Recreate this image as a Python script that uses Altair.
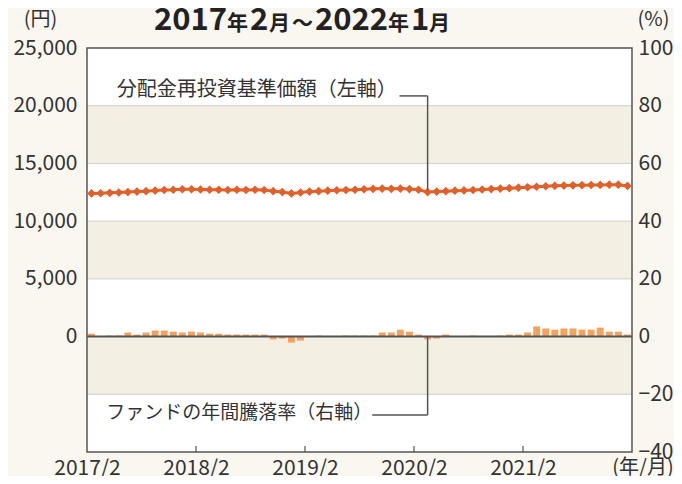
import altair as alt
import pandas as pd

# ---- data ----
months = list(range(60))  # 2017/2 ... 2022/1
nav = [12400, 12420, 12450, 12480, 12520, 12560, 12600, 12650, 12700, 12720,
       12760, 12760, 12740, 12720, 12720, 12700, 12720, 12700, 12720, 12700,
       12600, 12520, 12400, 12480, 12560, 12600, 12640, 12680, 12700, 12720,
       12760, 12800, 12820, 12800, 12820, 12780, 12720, 12520, 12560, 12600,
       12640, 12660, 12700, 12740, 12780, 12820, 12860, 12900, 12940, 12980,
       13020, 13060, 13080, 13100, 13120, 13130, 13140, 13160, 13160, 13050]
ret = [1.0, 0.1, 0.35, 0.35, 1.4, 0.7, 1.4, 2.1, 2.1, 1.7,
       1.4, 1.7, 1.4, 1.0, 1.0, 0.7, 0.7, 0.7, 0.7, 0.7,
       -1.0, -0.7, -2.1, -1.4, 0.0, 0.35, 0.1, 0.0, 0.35, 0.35,
       0.35, 0.35, 1.4, 1.4, 2.4, 1.7, 0.7, -1.0, -0.7, 0.7,
       0.0, 0.0, 0.35, 0.05, 0.0, 0.35, 0.7, 0.7, 1.4, 3.5,
       2.8, 2.4, 2.8, 2.8, 2.4, 2.4, 3.1, 1.7, 1.7, 0.7]
year_ticks = [0, 12, 24, 36, 48]
left_ticks = [0, 5000, 10000, 15000, 20000, 25000]
right_ticks = [-40, -20, 0, 20, 40, 60, 80, 100]
band_lo = [60, 20, -20]
band_hi = [80, 40, 0]
grid_vals = [80, 60, 40, 20, -20]

W, H = 545, 404
FONT = "Noto Sans CJK JP"
TXT = "#333333"
LINE_C = "#e0602c"
BAR_C = "#f8a05e"
FRAME_C = "#555555"
LBL = 21

df = pd.DataFrame({"i": months, "nav": nav, "ret": ret})
df["x0"] = df["i"] + 0.12
df["x1"] = df["i"] + 0.88
df["xc"] = df["i"] + 0.5
df["zero"] = 0.0

xs = alt.Scale(domain=[0, 60], nice=False, zero=False)
ysr = alt.Scale(domain=[-40, 100], nice=False, zero=False)
ysl = alt.Scale(domain=[-10000, 25000], nice=False, zero=False)

x_axis = alt.Axis(values=year_ticks, labelExpr="(2017 + datum.value/12) + '/2'",
                  ticks=False, domain=False, grid=False, title=None,
                  labelFont=FONT, labelFontSize=LBL, labelColor=TXT, labelPadding=5,
                  labelFlush=False)
r_axis = alt.Axis(orient="right", values=right_ticks, ticks=False, domain=False,
                  grid=False, labelFont=FONT, labelFontSize=LBL, labelColor=TXT,
                  labelPadding=6, title="(%)", titleAngle=0, titleX=21, titleY=-29,
                  titleAlign="center", titleBaseline="middle", titleFont=FONT,
                  titleFontSize=20, titleFontWeight="normal", titleColor=TXT)
l_axis = alt.Axis(orient="left", values=left_ticks, format=",.0f", ticks=False,
                  domain=False, grid=False, labelFont=FONT, labelFontSize=LBL,
                  labelColor=TXT, labelPadding=10, title="(円)", titleAngle=0,
                  titleX=-47, titleY=-29, titleAlign="center", titleBaseline="middle",
                  titleFont=FONT, titleFontSize=20, titleFontWeight="normal",
                  titleColor=TXT)

bands_df = pd.DataFrame({"lo": band_lo, "hi": band_hi, "a": 0, "b": 60})
grid_df = pd.DataFrame({"g": grid_vals})
tick_df = pd.DataFrame({"t": year_ticks[1:], "y0": -40, "y1": -37.9})
frame_df = pd.DataFrame({"a": [0], "b": [60], "lo": [-40], "hi": [100]})

bands = alt.Chart(bands_df).mark_rect(color="#f3f0e3").encode(
    x=alt.X("a:Q", scale=xs, axis=x_axis), x2="b:Q",
    y=alt.Y("lo:Q", scale=ysr, axis=r_axis), y2="hi:Q")
grid = alt.Chart(grid_df).mark_rule(color="#cfcfcf", strokeWidth=1).encode(
    y=alt.Y("g:Q", scale=ysr))
bars = alt.Chart(df).mark_rect(color=BAR_C).encode(
    x=alt.X("x0:Q", scale=xs), x2="x1:Q",
    y=alt.Y("ret:Q", scale=ysr), y2="zero:Q")
zero = alt.Chart(pd.DataFrame({"z": [0]})).mark_rule(color=FRAME_C, strokeWidth=2).encode(
    y=alt.Y("z:Q", scale=ysr))
ticks = alt.Chart(tick_df).mark_rule(color=FRAME_C, strokeWidth=1.2).encode(
    x=alt.X("t:Q", scale=xs), y=alt.Y("y0:Q", scale=ysr), y2="y1:Q")
frame = alt.Chart(frame_df).mark_rect(filled=False, stroke=FRAME_C, strokeWidth=1.5).encode(
    x=alt.X("a:Q", scale=xs), x2="b:Q", y=alt.Y("lo:Q", scale=ysr), y2="hi:Q")

# lower annotation (right axis units)
low_h = pd.DataFrame({"a": [31.4], "b": [37.5], "y": [-27.2]})
low_v = pd.DataFrame({"x": [37.5], "y0": [-27.2], "y1": [0]})
low_t = pd.DataFrame({"x": [31.4], "y": [-27.2], "t": ["ファンドの年間騰落率（右軸）"]})
ann_low = alt.layer(
    alt.Chart(low_h).mark_rule(color=FRAME_C, strokeWidth=1.5).encode(
        x=alt.X("a:Q", scale=xs), x2="b:Q", y=alt.Y("y:Q", scale=ysr)),
    alt.Chart(low_v).mark_rule(color=FRAME_C, strokeWidth=1.5).encode(
        x=alt.X("x:Q", scale=xs), y=alt.Y("y0:Q", scale=ysr), y2="y1:Q"),
    alt.Chart(low_t).mark_text(align="right", baseline="middle", font=FONT, fontSize=19,
                               color=TXT, dy=-2).encode(
        x=alt.X("x:Q", scale=xs), y=alt.Y("y:Q", scale=ysr), text="t:N"),
)

right_layer = alt.layer(bands, grid, bars, zero, ticks, ann_low, frame)

# left axis layer
line = alt.Chart(df).mark_line(color=LINE_C, strokeWidth=3).encode(
    x=alt.X("xc:Q", scale=xs), y=alt.Y("nav:Q", scale=ysl, axis=l_axis))
pts = alt.Chart(df).mark_point(shape="diamond", filled=True, size=75, color=LINE_C,
                               opacity=1).encode(
    x=alt.X("xc:Q", scale=xs), y=alt.Y("nav:Q", scale=ysl))
up_h = pd.DataFrame({"a": [34.4], "b": [37.5], "y": [20850]})
up_v = pd.DataFrame({"x": [37.5], "y0": [20850], "y1": [12700]})
up_t = pd.DataFrame({"x": [34.1], "y": [20850], "t": ["分配金再投資基準価額（左軸）"]})
ann_up = alt.layer(
    alt.Chart(up_h).mark_rule(color=FRAME_C, strokeWidth=1.5).encode(
        x=alt.X("a:Q", scale=xs), x2="b:Q", y=alt.Y("y:Q", scale=ysl)),
    alt.Chart(up_v).mark_rule(color=FRAME_C, strokeWidth=1.5).encode(
        x=alt.X("x:Q", scale=xs), y=alt.Y("y0:Q", scale=ysl), y2="y1:Q"),
    alt.Chart(up_t).mark_text(align="right", baseline="middle", font=FONT, fontSize=20,
                              color=TXT, dy=-6).encode(
        x=alt.X("x:Q", scale=xs), y=alt.Y("y:Q", scale=ysl), text="t:N"),
)

# title pieces
def tpiece(text, px, size, weight="bold"):
    return alt.Chart(pd.DataFrame({"t": [text]})).mark_text(
        align="left", baseline="alphabetic", font=FONT, fontSize=size,
        fontWeight=weight, color="#222222").encode(
        x=alt.value(px - 87), y=alt.value(30 - 48), text="t:N")

title_parts = [
    tpiece("2017", 154, 31), tpiece("年", 227, 21), tpiece("2", 250, 31),
    tpiece("月", 269, 21), tpiece("～", 292, 21), tpiece("2022", 315, 31),
    tpiece("年", 388, 21), tpiece("1", 411, 31), tpiece("月", 429, 21),
]
ym = alt.Chart(pd.DataFrame({"t": ["(年/月)"]})).mark_text(
    align="center", baseline="middle", font=FONT, fontSize=20, color=TXT).encode(
    x=alt.value(W + 11), y=alt.value(H + 16), text="t:N")

left_layer = alt.layer(line, pts, ann_up, ym, *title_parts)

chart = alt.layer(right_layer, left_layer).resolve_scale(y="independent").properties(
    width=W, height=H,
    autosize=alt.AutoSizeParams(type="none"),
    padding={"left": 79, "top": 40, "right": 42, "bottom": 24},
).configure(background="#f9f7ef").configure_view(fill="white", stroke=None)

chart.save("out.html", embed_options={"renderer": "svg", "actions": False})
